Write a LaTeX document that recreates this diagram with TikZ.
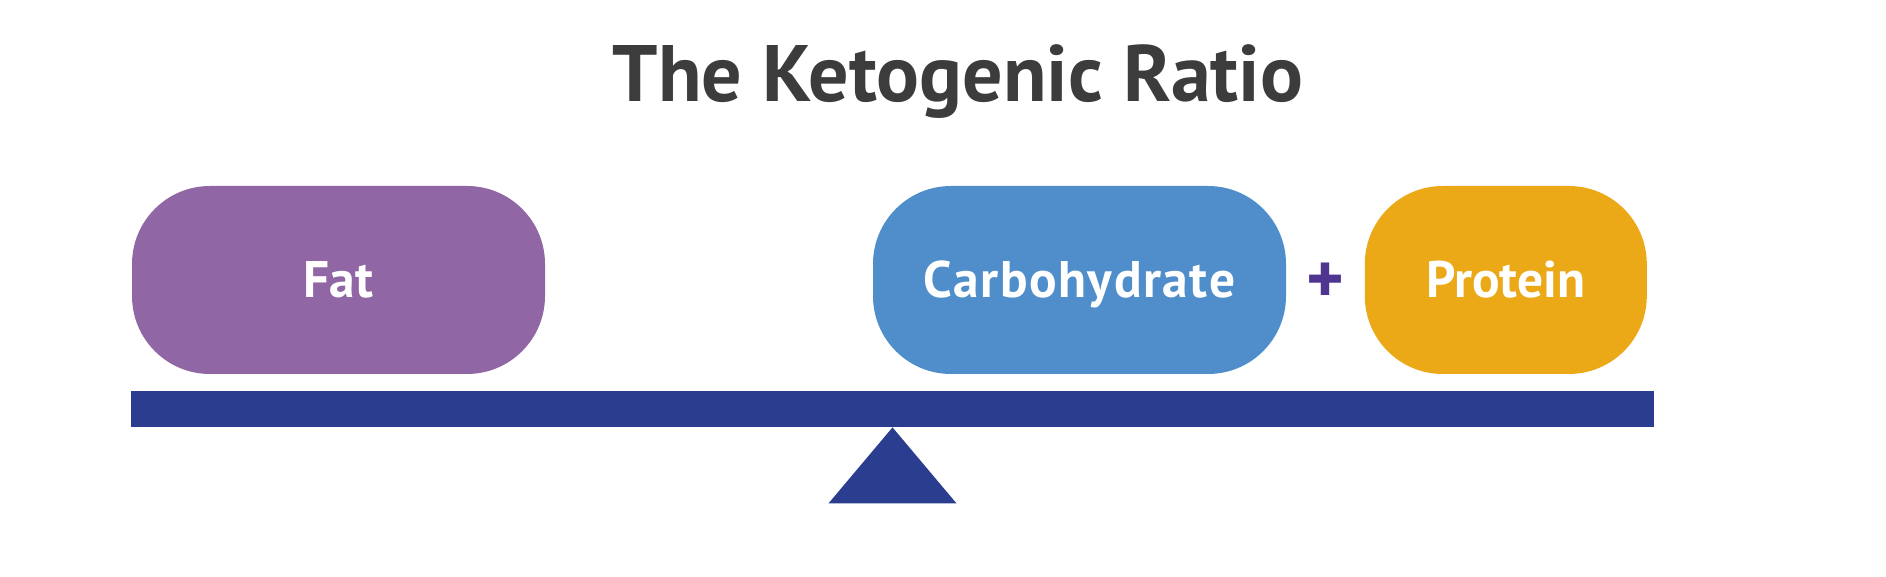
\documentclass[tikz,border=0pt]{standalone}
\usepackage{fontspec}
\setmainfont{PT Sans}
\usetikzlibrary{positioning}
\definecolor{titlegray}{HTML}{3C3C3C}
\definecolor{fatpurple}{HTML}{9066A4}
\definecolor{carbblue}{HTML}{4F8ECB}
\definecolor{proteinorange}{HTML}{EBA918}
\definecolor{plusviolet}{HTML}{4F3590}
\definecolor{beamblue}{HTML}{2B3D8E}
\begin{document}
\begin{tikzpicture}[x=0.5pt,y=-0.5pt]
                % food boxes rest on the beam, the wedge is the pivot
                \tikzstyle{food}=[rectangle, rounded corners=39pt, minimum width=206.5pt, minimum height=94pt, inner sep=0pt, text=white, text height=18pt, text depth=0pt, font=\bfseries\fontsize{25.7}{30}\selectfont]
                \useasboundingbox (0,0) rectangle (1886,577);
                \node (title) [anchor=base, text=titlegray, font=\bfseries\fontsize{40}{48}\selectfont] at (958,102) {The Ketogenic Ratio};
                \node (fat) [food, fill=fatpurple] at (338.5,280) {Fat};
                \node (carb) [food, fill=carbblue] at (1079.5,280) {\addfontfeature{LetterSpace=3}Carbohydrate};
                \node (protein) [food, fill=proteinorange, minimum width=141pt, right=39pt of carb] {Protein};
                \node (plus) [inner sep=0pt, text=plusviolet, font=\bfseries\fontsize{36}{40}\selectfont] at (1325,283) {+};
                \node (beam) [fill=beamblue, minimum width=761.5pt, minimum height=18pt, inner sep=0pt] at (892.5,409) {};
                \fill[beamblue] (beam.south) -- ++(-64,76) -- ++(128,0) -- cycle;
        \end{tikzpicture}
\end{document}
